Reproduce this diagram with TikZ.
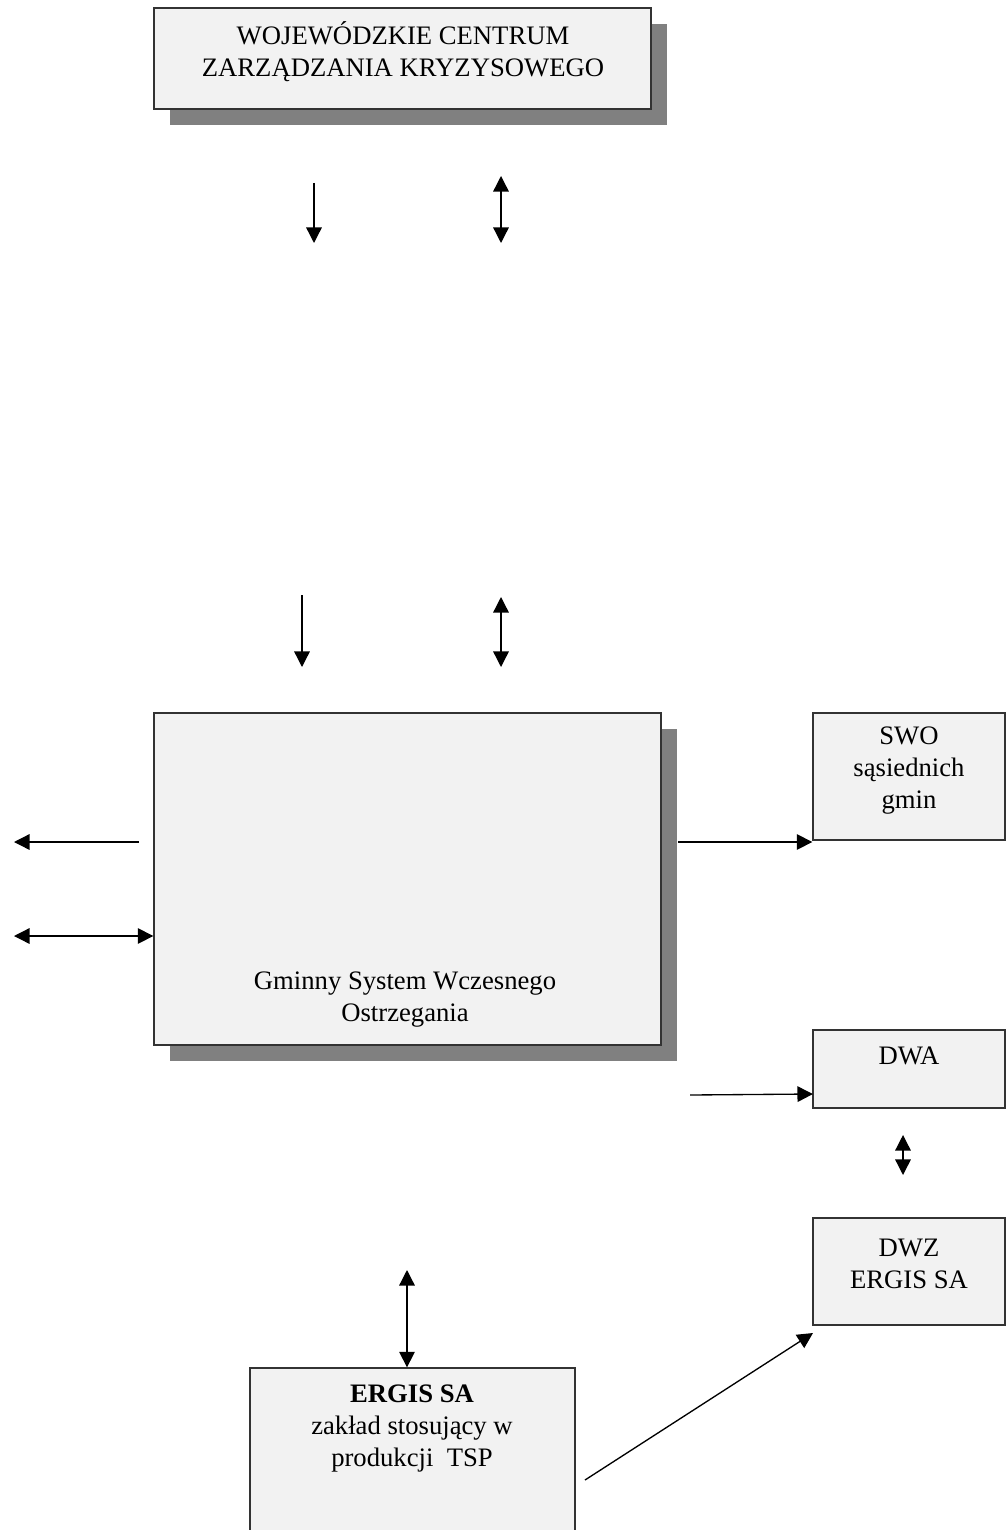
\documentclass[tikz,border=0pt]{standalone}
\usepackage[]{fontspec}
\usepackage[]{tikz}
\usepackage[]{xcolor}
\setmainfont{Liberation Serif}
\usetikzlibrary{positioning}
\usetikzlibrary{fit}
\usetikzlibrary{shadows}
\usetikzlibrary{arrows.meta}

\begin{document}
\begin{tikzpicture}[
        x=0.45pt, y=-0.45pt,
        align=center,
        box/.style = {draw=black!80, fill=black!5, line width=0.6pt, inner sep=0pt},
        sbox/.style = {box, drop shadow={opacity=1, fill=black!50, shadow xshift=7pt, shadow yshift=-7pt}},
        txt/.style = {font=\fontsize{12}{14.4}\selectfont, inner sep=0pt},
        arr/.style = {line width=0.6pt, -{Triangle[length=7pt, width=7pt]}},
        dbl/.style = {line width=0.6pt, {Triangle[length=7pt, width=7pt]}-{Triangle[length=7pt, width=7pt]}}
    ]

        \useasboundingbox (0,0) rectangle (1007,1530);

        % boxes
        \node[sbox, fit={(154,8) (651,109)}] (wczk) {};
        \node[sbox, fit={(154,713) (661,1045)}] (gswo) {};
        \node[box, fit={(813,713) (1005,840)}] (swo) {};
        \node[box, fit={(813,1030) (1005,1108)}] (dwa) {};
        \node[box, fit={(813,1218) (1005,1325)}] (dwz) {};
        \node[box, fit={(250,1368) (575,1550)}] (ergis) {};

        % texts
        \node[txt] (wczkT) at (403,52) {WOJEWÓDZKIE CENTRUM\\ZARZĄDZANIA KRYZYSOWEGO};
        \node[txt] (gswoT) at (405,1000) {Gminny System Wczesnego\\Ostrzegania};
        \node[txt] (swoT) at (909,771) {SWO\\sąsiednich\\gmin};
        \node[txt] (dwaT) at (909,1056) {DWA};
        \node[txt] (dwzT) at (909,1264) {DWZ\\ERGIS SA};
        \node[txt] (ergisT) at (412,1428) {\textbf{ERGIS SA}\\zakład stosujący w\\produkcji\ \ TSP};

        % free ends
        \coordinate (a1) at (314,183);
        \coordinate (a2) at (314,243);
        \coordinate (b1) at (501,176);
        \coordinate (b2) at (501,243);
        \coordinate (c1) at (302,595);
        \coordinate (c2) at (302,667);
        \coordinate (d1) at (501,597);
        \coordinate (d2) at (501,667);
        \coordinate (l1) at (139,842);
        \coordinate (l2) at (14,842);
        \coordinate (m1) at (14,936);
        \coordinate (r1) at (678,842);
        \coordinate (r2) at (690,1095);
        \coordinate (dwaIn) at (813,1094);
        \coordinate (v1) at (903,1135);
        \coordinate (v2) at (903,1175);
        \coordinate (e1) at (407,1270);
        \coordinate (s1) at (585,1480);
        \coordinate (dwzIn) at (813,1333);

        \draw[arr] (a1) -- (a2);
        \draw[dbl] (b1) -- (b2);
        \draw[arr] (c1) -- (c2);
        \draw[dbl] (d1) -- (d2);
        \draw[arr] (l1) -- (l2);
        \draw[dbl] (m1) -- (m1 -| gswo.west);
        \draw[arr] (r1) -- (r1 -| swo.west);
        \draw[arr] (r2) -- (dwaIn);
        \draw[dbl] (v1) -- (v2);
        \draw[dbl] (e1) -- (e1 |- ergis.north);
        \draw[arr] (s1) -- (dwzIn);

    \end{tikzpicture}
\end{document}
